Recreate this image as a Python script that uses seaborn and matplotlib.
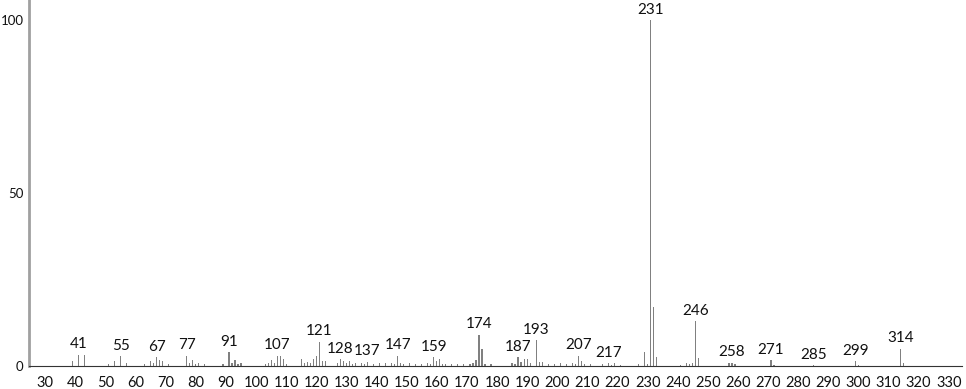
import matplotlib
matplotlib.use("Agg")
import matplotlib.pyplot as plt
import seaborn as sns
import pandas as pd
from matplotlib.ticker import MultipleLocator

mz = [39, 41, 43, 51, 53, 55, 57, 63, 65, 66, 67, 68, 69, 71, 77, 78, 79, 80, 81, 83,
      89, 91, 92, 93, 94, 95, 103, 104, 105, 106, 107, 108, 109, 110, 115, 116, 117, 118, 119, 120,
      121, 122, 123, 127, 128, 129, 130, 131, 132, 133, 135, 136, 137, 139, 141, 143, 145, 146, 147, 148,
      149, 151, 153, 155, 157, 158, 159, 160, 161, 162, 163, 165, 167, 169, 171, 172, 173, 174, 175, 176,
      178, 185, 186, 187, 188, 189, 190, 191, 193, 194, 195, 197, 199, 201, 203, 205, 206, 207, 208, 209,
      211, 215, 217, 218, 219, 221, 227, 229, 230, 231, 232, 233, 241, 243, 244, 245, 246, 247, 257, 258,
      259, 271, 272, 285, 299, 300, 314, 315]
intensity = [1.5, 3.2, 3.3, 0.6, 1.5, 2.8, 0.8, 0.6, 1.5, 0.8, 2.6, 1.8, 1.4, 0.6, 3.0, 0.9, 1.7, 0.6, 1.0, 0.6,
             0.6, 4.0, 1.0, 1.6, 0.6, 0.9, 0.6, 0.9, 1.6, 0.8, 3.0, 3.0, 1.9, 0.6, 2.0, 0.8, 1.3, 1.0, 2.0, 3.0,
             7.0, 1.4, 1.4, 0.8, 2.0, 1.4, 0.8, 1.5, 0.6, 1.0, 1.0, 0.6, 1.2, 0.6, 0.8, 0.8, 1.0, 0.6, 3.0, 1.0,
             0.6, 1.0, 0.6, 0.6, 0.9, 0.6, 2.6, 1.4, 2.0, 0.6, 0.6, 0.6, 0.6, 0.6, 0.6, 1.0, 1.8, 9.0, 5.0, 0.6,
             0.6, 0.8, 0.6, 2.5, 1.2, 1.9, 1.9, 0.8, 7.5, 1.2, 1.2, 0.6, 0.6, 1.0, 0.6, 1.0, 0.6, 3.0, 1.4, 0.7,
             0.5, 0.5, 0.8, 0.4, 0.8, 0.4, 0.5, 4.0, 0.5, 100.0, 17.0, 2.5, 0.4, 1.0, 0.6, 1.0, 13.0, 2.2, 0.8, 0.9,
             0.7, 1.6, 0.4, 0.3, 1.4, 0.3, 5.0, 1.0]
label_mz = [41, 55, 67, 77, 91, 107, 121, 128, 137, 147, 159, 174, 187, 193, 207, 217,
            231, 246, 258, 271, 285, 299, 314]
x_ticks = list(range(30, 331, 10))
y_ticks = [0, 50, 100]

df = pd.DataFrame({"mz": mz, "intensity": intensity})

sns.set_style("white")
plt.rcParams["font.family"] = ["Lato", "DejaVu Sans"]

fig = plt.figure(figsize=(9.66, 3.89), dpi=100)
ax = fig.add_axes([29 / 966, 23 / 389, (962 - 29) / 966, 366 / 389])

sns.barplot(data=df, x="mz", y="intensity", native_scale=True, width=0.4,
            color="#808080", saturation=1, linewidth=0, ax=ax)

lookup = dict(zip(mz, intensity))
for m in label_mz:
    ax.text(m, lookup[m] + 1.0, str(m), ha="center", va="bottom",
            fontsize=11, color="#111111")

ax.set_xlim(24.6, 334.4)
ax.set_ylim(0, 105.8)
ax.set_xticks(x_ticks)
ax.set_xticklabels([str(t) for t in x_ticks])
ax.xaxis.set_minor_locator(MultipleLocator(2))
ax.set_yticks(y_ticks)
ax.set_yticklabels([str(t) for t in y_ticks])
ax.tick_params(axis="x", which="major", direction="out", length=5, width=0.8,
               color="#333333", labelsize=10.5, pad=2, labelcolor="#111111")
ax.tick_params(axis="x", which="minor", direction="inout", length=4, width=0.7, color="#333333")
ax.tick_params(axis="y", which="major", direction="out", length=3.5, width=0.8,
               color="#333333", labelsize=9.5, pad=0.3, labelcolor="#111111")
ax.set_xlabel("")
ax.set_ylabel("")
for s in ["top", "right"]:
    ax.spines[s].set_visible(False)
ax.spines["left"].set_color("#a0a0a0")
ax.spines["left"].set_linewidth(2)
ax.spines["bottom"].set_color("#333333")
ax.spines["bottom"].set_linewidth(0.8)

fig.savefig("out.png", dpi=100, facecolor="white")
